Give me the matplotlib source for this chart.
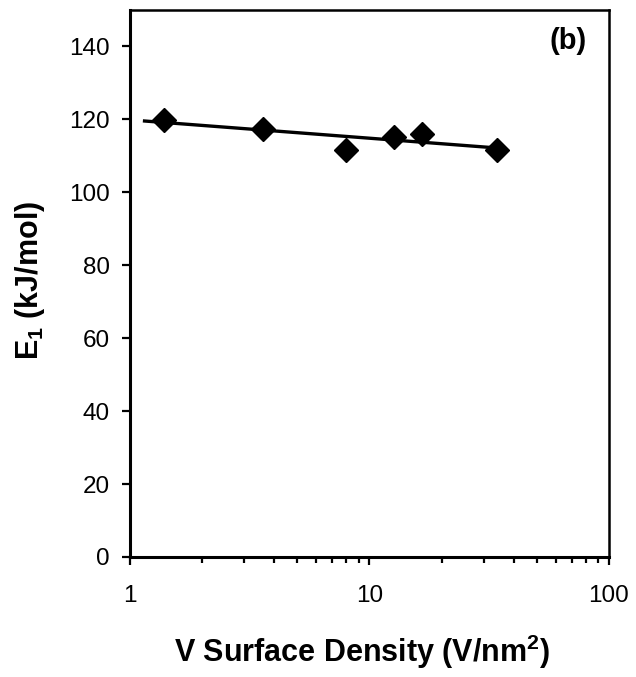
import numpy as np
import matplotlib.pyplot as plt
from matplotlib.ticker import LogLocator, NullFormatter, FixedLocator

plt.rcParams['font.family'] = ['Liberation Sans', 'DejaVu Sans']
plt.rcParams['mathtext.fontset'] = 'custom'
plt.rcParams['mathtext.rm'] = 'Liberation Sans'
plt.rcParams['mathtext.bf'] = 'Liberation Sans:bold'

# Data
density = [1.39, 3.59, 8.0, 12.6, 16.6, 34.2]   # V/nm^2
e1 = [119.9, 117.3, 111.5, 115.3, 116.1, 111.7]  # kJ/mol

# log-linear trendline through the points
coef = np.polyfit(np.log10(density), e1, 1)
x_fit = np.array([1.15, 34.2])
y_fit = np.polyval(coef, np.log10(x_fit))

fig = plt.figure(figsize=(6.36, 6.77), dpi=100)
ax = fig.add_axes([0.2044, 0.1773, 0.7531, 0.8079])

ax.plot(x_fit, y_fit, color="black", linewidth=2.4, zorder=2)
ax.plot(density, e1, linestyle="none", marker="D", markersize=12.5,
        color="black", zorder=3)

ax.set_xscale("log")
ax.set_xlim(1, 100)
ax.set_ylim(0, 150)
ax.yaxis.set_major_locator(FixedLocator(np.arange(0, 141, 20)))
ax.xaxis.set_major_locator(FixedLocator([1, 10, 100]))
ax.xaxis.set_major_formatter(plt.FuncFormatter(lambda v, p: f"{v:g}"))
ax.xaxis.set_minor_locator(LogLocator(base=10, subs=np.arange(2, 10)))
ax.xaxis.set_minor_formatter(NullFormatter())

ax.tick_params(axis="both", which="major", direction="out", length=6, width=1.6,
               labelsize=17.5, pad=8.5)
ax.tick_params(axis="x", which="major", pad=14)
ax.tick_params(axis="x", which="minor", direction="out", length=4.5, width=1.6)

for side in ["left", "bottom"]:
    ax.spines[side].set_linewidth(2.2)
for side in ["top", "right"]:
    ax.spines[side].set_linewidth(1.8)

ax.set_xlabel("V Surface Density (V/nm$^\\mathbf{2}$)", fontsize=22,
              fontweight="bold", va="baseline")
ax.xaxis.set_label_coords(0.485, -0.192)
ax.set_ylabel("E$_\\mathbf{1}$ (kJ/mol)", fontsize=22, fontweight="bold",
              va="baseline")
ax.yaxis.set_label_coords(-0.192, 0.506)
ax.text(0.954, 0.929, "(b)", transform=ax.transAxes, ha="right", va="baseline",
        fontsize=21, fontweight="bold")

fig.savefig("out.png", dpi=100)
